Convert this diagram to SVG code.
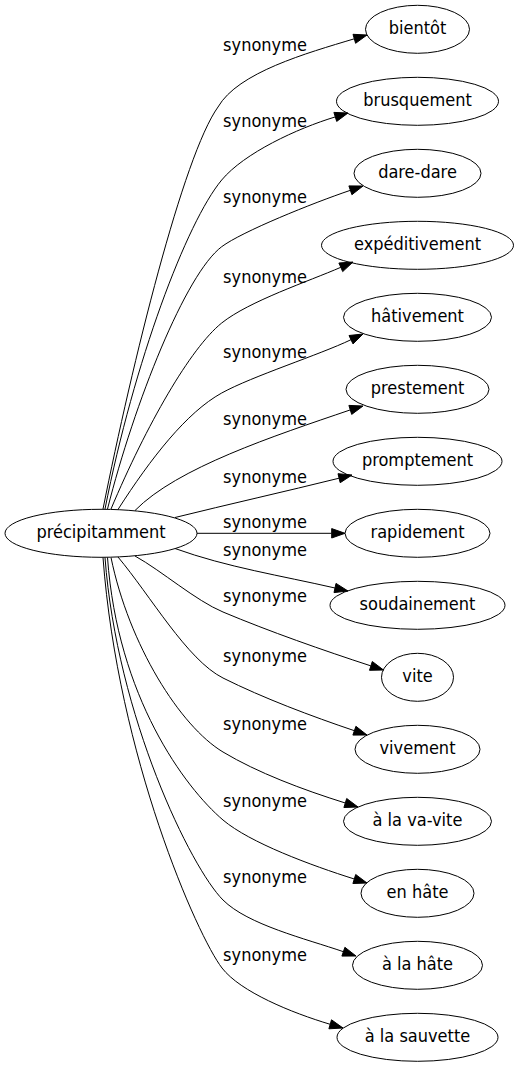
<svg xmlns="http://www.w3.org/2000/svg" width="518" height="1067" viewBox="0 0 518 1067">
<style>
text{font-family:"DejaVu Sans Condensed","DejaVu Sans",sans-serif;font-stretch:condensed;font-size:18px;fill:#000;text-anchor:middle}
.node ellipse{fill:none;stroke:#000;stroke-width:1}
.edge path{fill:none;stroke:#000;stroke-width:1}
.edge polygon{fill:#000;stroke:#000;stroke-width:1}
</style>
<rect width="518" height="1067" fill="#fff"/>
<g id="edges">
<g class="edge" id="e1"><path d="M103,509 C132.4,362 183.2,155.6 218,107 C238,72.4 306.4,53.2 354.3,38.8"/><polygon points="367,35 355.6,43.3 353,34.3"/><text x="265" y="51">synonyme</text></g>
<g class="edge" id="e2"><path d="M105,509 C134,362 186.5,222.2 221.7,180 C244.1,153.1 297,128.5 335.3,116.9"/><polygon points="348,113 336.7,121.4 333.9,112.4"/><text x="265" y="127">synonyme</text></g>
<g class="edge" id="e3"><path d="M107.5,509 C134.5,402.3 185.7,273.7 221.7,246.7 C241.7,231.7 312.5,203.1 350.4,190.3"/><polygon points="363,186 351.9,194.7 348.9,185.9"/><text x="265" y="203">synonyme</text></g>
<g class="edge" id="e4"><path d="M111,509 C146.5,424.9 190.5,348 221.7,323 C249,301.1 308.7,281.3 340.8,267.3"/><polygon points="353,262 342.7,271.6 338.9,263"/><text x="265" y="283">synonyme</text></g>
<g class="edge" id="e5"><path d="M118,509.5 C151,458 186.7,412.3 221.7,393 C252.4,376.1 319.5,354.8 351,339.7"/><polygon points="363,334 353,343.9 349,335.5"/><text x="265" y="358">synonyme</text></g>
<g class="edge" id="e6"><path d="M135,510.5 C177,467.7 273.7,436 350.3,409.9"/><polygon points="363,406 351.7,414.4 348.9,405.4"/><text x="265" y="425">synonyme</text></g>
<g class="edge" id="e7"><path d="M175,517.5 C228.4,504.3 285.8,491.4 339.1,478.2"/><polygon points="352,475 340.2,482.7 338,473.7"/><text x="265" y="483">synonyme</text></g>
<g class="edge" id="e8"><path d="M197,533.3 L331.7,533.3"/><polygon points="345,533.3 331.7,538 331.7,528.6"/><text x="265" y="528">synonyme</text></g>
<g class="edge" id="e9"><path d="M175,548.5 C226.7,567.2 281.4,575.7 335,588"/><polygon points="348,591 334,592.6 336,583.4"/><text x="265" y="556">synonyme</text></g>
<g class="edge" id="e10"><path d="M135,556 C162,571 195.3,600.4 223,612 C269.1,631.4 323.4,650.4 370.9,665.9"/><polygon points="383.5,670 369.5,670.3 372.3,661.5"/><text x="265" y="602">synonyme</text></g>
<g class="edge" id="e11"><path d="M118,557 C150,595 187.2,660.1 223,678 C263.2,698.1 311.7,716.3 354.4,730.7"/><polygon points="367,735 352.9,735.1 355.9,726.3"/><text x="265" y="662">synonyme</text></g>
<g class="edge" id="e12"><path d="M111,557.5 C129,645 180.2,726.3 223,752 C257.3,772.6 302.4,789.6 345.3,803"/><polygon points="358,807 343.9,807.5 346.7,798.5"/><text x="265" y="730">synonyme</text></g>
<g class="edge" id="e13"><path d="M107.5,557.5 C117.5,697 184.9,787.6 223,820 C249.7,842.7 311.4,865.5 354.3,879"/><polygon points="367,883 352.9,883.5 355.7,874.5"/><text x="265" y="807">synonyme</text></g>
<g class="edge" id="e14"><path d="M105,557.5 C117,717 191.2,868.2 223,900 C247.7,924.7 305.6,938.7 343.4,951.7"/><polygon points="356,956 341.9,956.1 344.9,947.3"/><text x="265" y="883">synonyme</text></g>
<g class="edge" id="e15"><path d="M103,557.5 C118,757 197.6,936.3 222,968 C240.3,991.8 291.6,1012.8 330.2,1024.3"/><polygon points="343,1028 328.9,1028.8 331.5,1019.8"/><text x="265" y="961">synonyme</text></g>
</g>
<g class="node" id="n0"><ellipse cx="101" cy="533.3" rx="96" ry="24"/><text x="101" y="538.3">précipitamment</text></g>
<g class="node" id="n1"><ellipse cx="417.5" cy="29.3" rx="52" ry="24"/><text x="417.5" y="34.3">bientôt</text></g>
<g class="node" id="n2"><ellipse cx="417.5" cy="101.3" rx="81" ry="24"/><text x="417.5" y="106.3">brusquement</text></g>
<g class="node" id="n3"><ellipse cx="417.5" cy="173.3" rx="63.5" ry="24"/><text x="417.5" y="178.3">dare-dare</text></g>
<g class="node" id="n4"><ellipse cx="417.5" cy="245.3" rx="96" ry="24"/><text x="417.5" y="250.3">expéditivement</text></g>
<g class="node" id="n5"><ellipse cx="417.5" cy="317.3" rx="74" ry="24"/><text x="417.5" y="322.3">hâtivement</text></g>
<g class="node" id="n6"><ellipse cx="417.5" cy="389.3" rx="71.5" ry="24"/><text x="417.5" y="394.3">prestement</text></g>
<g class="node" id="n7"><ellipse cx="417.5" cy="461.3" rx="84.5" ry="24"/><text x="417.5" y="466.3">promptement</text></g>
<g class="node" id="n8"><ellipse cx="417.5" cy="533.3" rx="72.5" ry="24"/><text x="417.5" y="538.3">rapidement</text></g>
<g class="node" id="n9"><ellipse cx="417.5" cy="605.3" rx="87.5" ry="24"/><text x="417.5" y="610.3">soudainement</text></g>
<g class="node" id="n10"><ellipse cx="417.5" cy="677.3" rx="36" ry="24"/><text x="417.5" y="682.3">vite</text></g>
<g class="node" id="n11"><ellipse cx="417.5" cy="749.3" rx="62.5" ry="24"/><text x="417.5" y="754.3">vivement</text></g>
<g class="node" id="n12"><ellipse cx="417.5" cy="821.3" rx="74" ry="24"/><text x="417.5" y="826.3">à la va-vite</text></g>
<g class="node" id="n13"><ellipse cx="417.5" cy="893.3" rx="56.5" ry="24"/><text x="417.5" y="898.3">en hâte</text></g>
<g class="node" id="n14"><ellipse cx="417.5" cy="965.3" rx="65" ry="24"/><text x="417.5" y="970.3">à la hâte</text></g>
<g class="node" id="n15"><ellipse cx="417.5" cy="1037.3" rx="80.5" ry="24"/><text x="417.5" y="1042.3">à la sauvette</text></g>
</svg>
